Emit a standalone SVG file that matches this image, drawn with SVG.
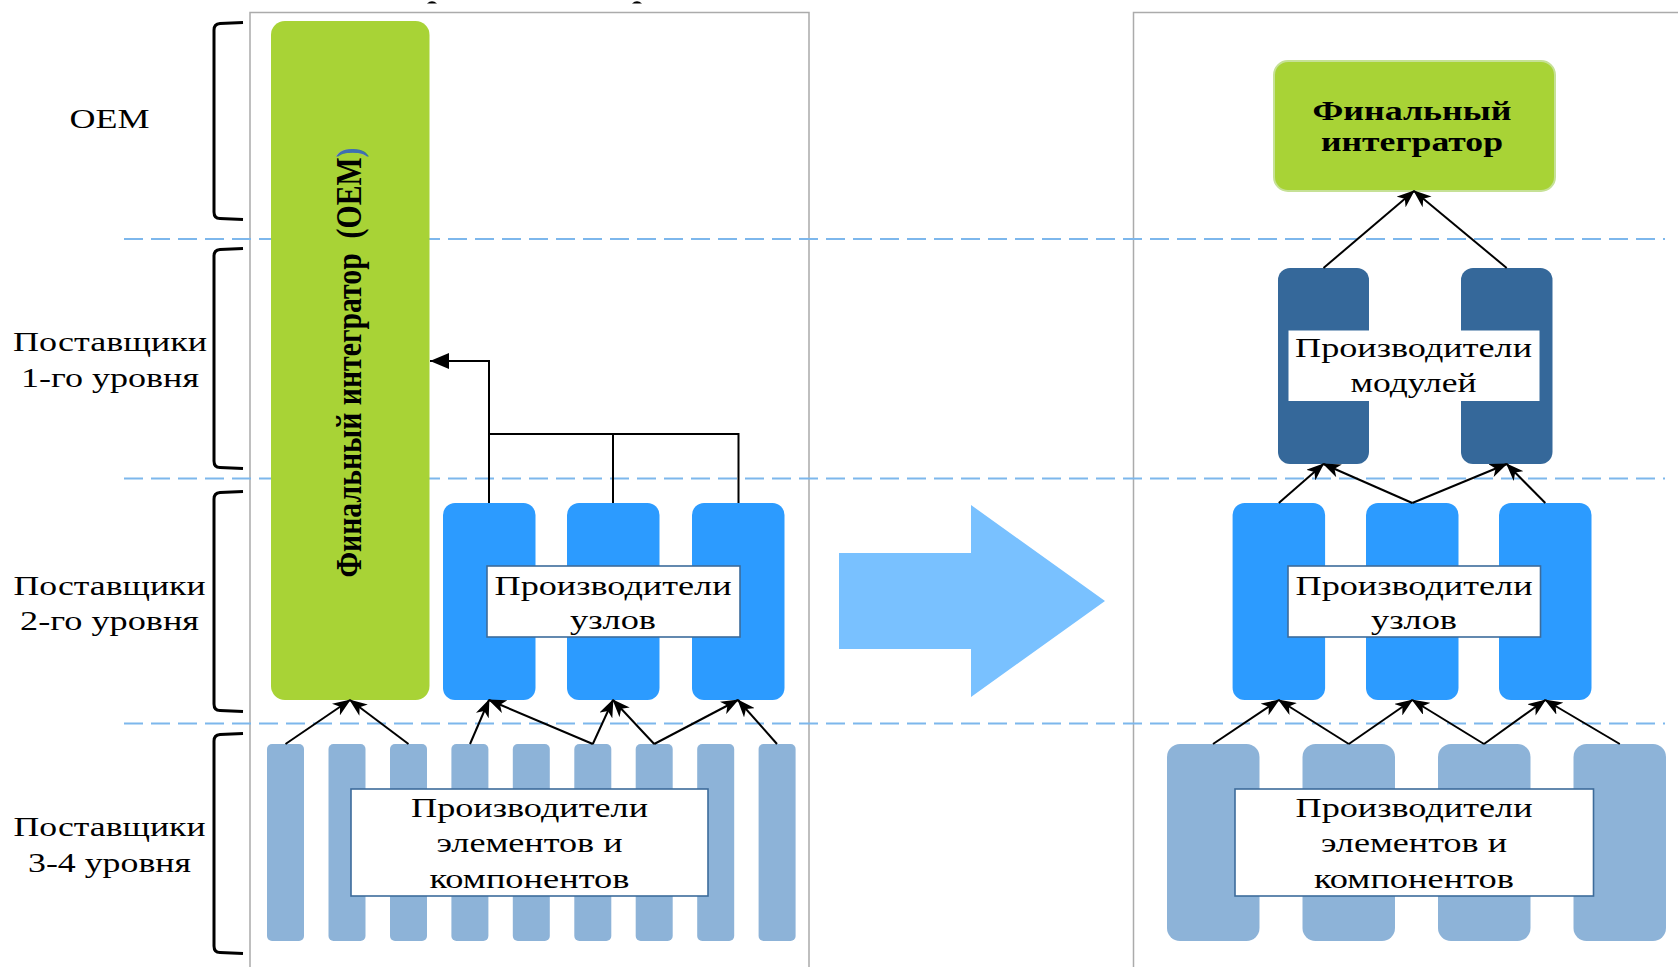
<svg xmlns="http://www.w3.org/2000/svg" width="1678" height="967" viewBox="0 0 1678 967">
  <defs>
    <style>
      .panel { fill: none; stroke: #ababab; stroke-width: 1.5; }
      .tierline { fill: none; stroke: #7db7ec; stroke-width: 2.2; stroke-dasharray: 19 8; }
      .brace { fill: none; stroke: #000; stroke-width: 3; stroke-linejoin: round; }
      .lbl { font-family: "Liberation Serif", "Times New Roman", serif; font-size: 28px; fill: #000; text-anchor: middle; }
      .bold { font-weight: bold; }
      .oem { fill: #a8d336; }
      .node { fill: #2c9bff; }
      .module { fill: #35689a; }
      .part { fill: #8db3d8; }
      .tag { fill: #fff; stroke: #3d6c9b; stroke-width: 1.6; }
      .tag-plain { fill: #fff; }
      .link { fill: none; stroke: #000; stroke-width: 2; marker-end: url(#stealth); }
      .elbow { fill: none; stroke: #000; stroke-width: 2; }
    </style>
    <marker id="stealth" viewBox="0 0 18 14" refX="17" refY="7" markerWidth="18" markerHeight="14" markerUnits="userSpaceOnUse" orient="auto">
      <path d="M0,0 L18,7 L0,14 L5,7 Z" fill="#000"/>
    </marker>
    <marker id="solid" viewBox="0 0 19 16" refX="19" refY="8" markerWidth="19" markerHeight="16" markerUnits="userSpaceOnUse" orient="auto">
      <path d="M0,0 L19,8 L0,16 Z" fill="#000"/>
    </marker>
  </defs>

  <rect width="1678" height="967" fill="#fff"/>

  <!-- clipped remnants of a heading above the frame -->
  <path d="M427,3.5 Q432,-1 437,3.5 Z M632,3.5 Q637,-1 642,3.5 Z" fill="#000"/>

  <!-- panel frames -->
  <g id="frames">
    <path class="panel" d="M250,968 L250,12.5 L809,12.5 L809,968"/>
    <path class="panel" d="M1133.5,968 L1133.5,12.5 L1680,12.5"/>
  </g>

  <!-- tier separators -->
  <g id="tiers">
    <line class="tierline" x1="124" y1="239" x2="1665" y2="239"/>
    <line class="tierline" x1="124" y1="478.5" x2="1665" y2="478.5"/>
    <line class="tierline" x1="124" y1="723.5" x2="1665" y2="723.5"/>
  </g>

  <!-- tier braces and captions -->
  <g id="tier-oem">
    <path class="brace" d="M243,22.5 L220,23.5 Q214,24 214,30 L214,212 Q214,218.5 220,218.5 L243,219.5"/>
    <text class="lbl" x="109.5" y="128" textLength="80" lengthAdjust="spacingAndGlyphs">OEM</text>
  </g>
  <g id="tier-1">
    <path class="brace" d="M243,248.5 L220,249.5 Q214,250 214,256 L214,461 Q214,467.5 220,467.5 L243,468.5"/>
    <text class="lbl" x="110" y="351" textLength="194" lengthAdjust="spacingAndGlyphs">Поставщики</text>
    <text class="lbl" x="110" y="387" textLength="178" lengthAdjust="spacingAndGlyphs">1-го уровня</text>
  </g>
  <g id="tier-2">
    <path class="brace" d="M243,491.5 L220,492.5 Q214,493 214,499 L214,704 Q214,710.5 220,710.5 L243,711.5"/>
    <text class="lbl" x="109.5" y="595" textLength="192" lengthAdjust="spacingAndGlyphs">Поставщики</text>
    <text class="lbl" x="109.5" y="630" textLength="179" lengthAdjust="spacingAndGlyphs">2-го уровня</text>
  </g>
  <g id="tier-34">
    <path class="brace" d="M243,733.5 L220,734.5 Q214,735 214,741 L214,946 Q214,952.5 220,952.5 L243,953.5"/>
    <text class="lbl" x="109.5" y="836" textLength="192" lengthAdjust="spacingAndGlyphs">Поставщики</text>
    <text class="lbl" x="109.5" y="872" textLength="163" lengthAdjust="spacingAndGlyphs">3-4 уровня</text>
  </g>

  <!-- ===== current structure (left) ===== -->
  <g id="oem-integrator">
    <rect class="oem" x="271" y="21" width="158.5" height="679" rx="14"/>
    <g transform="translate(360.5,362.5) scale(1.3,1) rotate(-90)">
      <text class="lbl bold" x="0" y="0" font-size="27" textLength="430" lengthAdjust="spacingAndGlyphs">Финальный интегратор&#160; (OEM<tspan fill="#3f6fb2">)</tspan></text>
    </g>
  </g>

  <g id="assembly-makers-left">
    <rect class="node" x="443" y="503" width="92.5" height="197" rx="12"/>
    <rect class="node" x="567" y="503" width="92.5" height="197" rx="12"/>
    <rect class="node" x="692" y="503" width="92.5" height="197" rx="12"/>
    <rect class="tag" x="487" y="566" width="253" height="71"/>
    <text class="lbl" x="613" y="595" textLength="237" lengthAdjust="spacingAndGlyphs">Производители</text>
    <text class="lbl" x="613" y="629" textLength="86" lengthAdjust="spacingAndGlyphs">узлов</text>
  </g>

  <g id="component-makers-left">
    <rect class="part" x="267" y="744" width="37" height="197" rx="5"/>
    <rect class="part" x="328.5" y="744" width="37" height="197" rx="5"/>
    <rect class="part" x="390" y="744" width="37" height="197" rx="5"/>
    <rect class="part" x="451.4" y="744" width="37" height="197" rx="5"/>
    <rect class="part" x="512.8" y="744" width="37" height="197" rx="5"/>
    <rect class="part" x="574.3" y="744" width="37" height="197" rx="5"/>
    <rect class="part" x="635.7" y="744" width="37" height="197" rx="5"/>
    <rect class="part" x="697.2" y="744" width="37" height="197" rx="5"/>
    <rect class="part" x="758.6" y="744" width="37" height="197" rx="5"/>
    <rect class="tag" x="351" y="789" width="357" height="107"/>
    <text class="lbl" x="529.5" y="817" textLength="237" lengthAdjust="spacingAndGlyphs">Производители</text>
    <text class="lbl" x="529.5" y="852" textLength="186" lengthAdjust="spacingAndGlyphs">элементов и</text>
    <text class="lbl" x="529.5" y="888" textLength="200" lengthAdjust="spacingAndGlyphs">компонентов</text>
  </g>

  <!-- transition arrow -->
  <g id="transition">
    <polygon points="839,553 971,553 971,505 1105,601 971,697 971,649 839,649" fill="#79c1ff"/>
  </g>

  <!-- ===== target structure (right) ===== -->
  <g id="final-integrator">
    <rect class="oem" x="1274" y="61" width="281" height="130" rx="14" stroke="#c6e196" stroke-width="2"/>
    <text class="lbl bold" x="1412" y="120" font-size="31" textLength="199" lengthAdjust="spacingAndGlyphs">Финальный</text>
    <text class="lbl bold" x="1412" y="151" font-size="31" textLength="182" lengthAdjust="spacingAndGlyphs">интегратор</text>
  </g>

  <g id="module-makers">
    <rect class="module" x="1278" y="268" width="91" height="196" rx="12"/>
    <rect class="module" x="1461" y="268" width="91.5" height="196" rx="12"/>
    <rect class="tag-plain" x="1288.5" y="330.5" width="251" height="70.5"/>
    <text class="lbl" x="1413.5" y="357" textLength="237" lengthAdjust="spacingAndGlyphs">Производители</text>
    <text class="lbl" x="1413.5" y="392" textLength="126" lengthAdjust="spacingAndGlyphs">модулей</text>
  </g>

  <g id="assembly-makers-right">
    <rect class="node" x="1232.6" y="503" width="92.5" height="197" rx="12"/>
    <rect class="node" x="1366" y="503" width="92.5" height="197" rx="12"/>
    <rect class="node" x="1499" y="503" width="92.5" height="197" rx="12"/>
    <rect class="tag" x="1288" y="566" width="252.5" height="71"/>
    <text class="lbl" x="1414" y="595" textLength="237" lengthAdjust="spacingAndGlyphs">Производители</text>
    <text class="lbl" x="1414" y="629" textLength="86" lengthAdjust="spacingAndGlyphs">узлов</text>
  </g>

  <g id="component-makers-right">
    <rect class="part" x="1167" y="744" width="92.5" height="197" rx="13"/>
    <rect class="part" x="1302.5" y="744" width="92.5" height="197" rx="13"/>
    <rect class="part" x="1438" y="744" width="92.5" height="197" rx="13"/>
    <rect class="part" x="1573.5" y="744" width="92.5" height="197" rx="13"/>
    <rect class="tag" x="1235" y="789" width="358.5" height="107"/>
    <text class="lbl" x="1414" y="817" textLength="237" lengthAdjust="spacingAndGlyphs">Производители</text>
    <text class="lbl" x="1414" y="852" textLength="186" lengthAdjust="spacingAndGlyphs">элементов и</text>
    <text class="lbl" x="1414" y="888" textLength="200" lengthAdjust="spacingAndGlyphs">компонентов</text>
  </g>

  <!-- connectors -->
  <g id="connectors">
    <!-- left: components to tier-2 and OEM -->
    <line class="link" x1="285.5" y1="744" x2="350" y2="700"/>
    <line class="link" x1="408.5" y1="744" x2="350" y2="700"/>
    <line class="link" x1="470" y1="744" x2="489" y2="700"/>
    <line class="link" x1="592.8" y1="744" x2="489" y2="700"/>
    <line class="link" x1="592.8" y1="744" x2="613" y2="700"/>
    <line class="link" x1="654.2" y1="744" x2="613" y2="700"/>
    <line class="link" x1="654.2" y1="744" x2="738" y2="700"/>
    <line class="link" x1="777" y1="744" x2="738" y2="700"/>
    <!-- left: tier-2 directly to OEM -->
    <path class="elbow" d="M489,503 V434 H738.5 V503 M613,503 V434"/>
    <path class="elbow" d="M489,434 V361 H430" marker-end="url(#solid)"/>

    <!-- right: modules to final integrator -->
    <line class="link" x1="1323.5" y1="268" x2="1414" y2="191"/>
    <line class="link" x1="1506.7" y1="268" x2="1414" y2="191"/>
    <!-- right: assemblies to modules -->
    <line class="link" x1="1278.8" y1="503" x2="1323.5" y2="464"/>
    <line class="link" x1="1412.3" y1="503" x2="1323.5" y2="464"/>
    <line class="link" x1="1412.3" y1="503" x2="1506.7" y2="464"/>
    <line class="link" x1="1545.3" y1="503" x2="1506.7" y2="464"/>
    <!-- right: components to assemblies -->
    <line class="link" x1="1213" y1="744" x2="1278.8" y2="700"/>
    <line class="link" x1="1348.8" y1="744" x2="1278.8" y2="700"/>
    <line class="link" x1="1348.8" y1="744" x2="1412.3" y2="700"/>
    <line class="link" x1="1484" y1="744" x2="1412.3" y2="700"/>
    <line class="link" x1="1484" y1="744" x2="1545.3" y2="700"/>
    <line class="link" x1="1619.8" y1="744" x2="1545.3" y2="700"/>
  </g>
</svg>
